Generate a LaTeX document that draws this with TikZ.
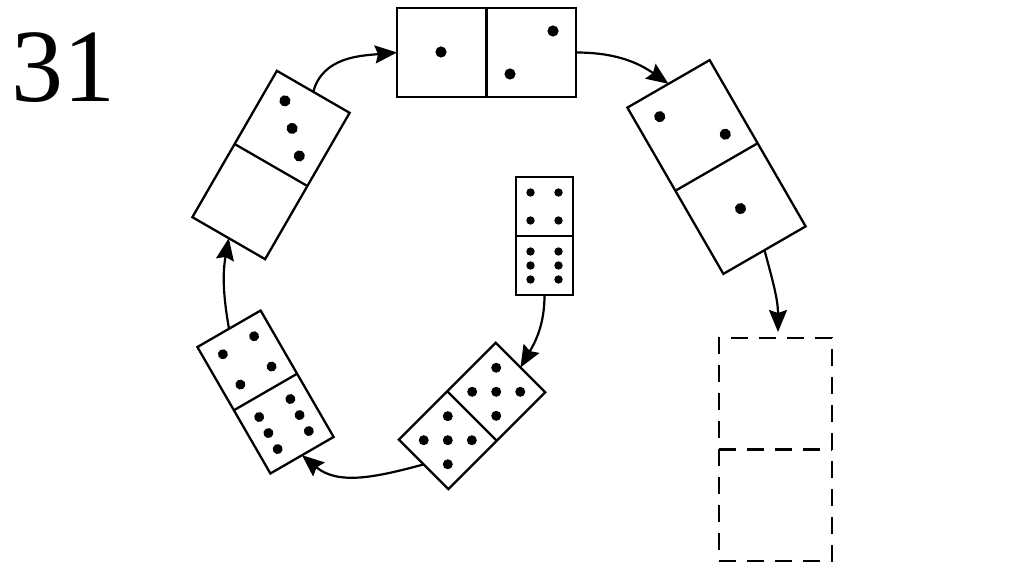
\documentclass[tikz,border=0pt]{standalone}
\usepackage{fontspec}
\setmainfont{Liberation Serif}
\usetikzlibrary{arrows.meta}
\begin{document}
\begin{tikzpicture}[x=1pt,y=1pt,
  dom/.style={draw, line width=2.3pt, inner sep=0pt, outer sep=0pt, fill=white},
  dashdom/.style={draw, line width=2.6pt, inner sep=0pt, outer sep=0pt, dash pattern=on 17pt off 11pt},
  divline/.style={line width=2.3pt},
  arr/.style={line width=2.2pt, -{Stealth[length=22pt,width=18pt,inset=3pt]}}]
\useasboundingbox (0,0) rectangle (1024,574);
\fill[white] (0,0) rectangle (1024,574);

\node[anchor=base west, inner sep=0pt, font=\fontsize{104}{104}\selectfont] (num) at (11,472) {31};

% top horizontal domino 1|2
\node[dom, minimum width=179pt, minimum height=89pt] (top) at (486.5,521.5) {};
\draw[divline] (top.north) -- (top.south);
\fill (441,522) circle (5.6pt);
\fill (553,543) circle (5.6pt);
\fill (510,500) circle (5.6pt);

% upper right domino 2|1
\node[dom, minimum width=95pt, minimum height=192pt, rotate=30] (ur) at (716.5,407) {};
\draw[divline] (ur.west) -- (ur.east);
\begin{scope}[shift={(ur.center)}, rotate=30]
  \fill (-24,72) circle (5.6pt);
  \fill (24,24) circle (5.6pt);
  \fill (0,-48) circle (5.6pt);
\end{scope}

% upper left domino 3|0
\node[dom, minimum width=84pt, minimum height=169pt, rotate=-30] (ul) at (271,409) {};
\draw[divline] (ul.west) -- (ul.east);
\begin{scope}[shift={(ul.center)}, rotate=-30]
  \fill (-20,62.5) circle (5.6pt);
  \fill (0,42.25) circle (5.6pt);
  \fill (20,22) circle (5.6pt);
\end{scope}

% centre domino 4|6
\node[dom, minimum width=57pt, minimum height=118pt] (c) at (544.5,338) {};
\draw[divline] (c.west) -- (c.east);
\begin{scope}[shift={(c.center)}]
  \foreach \px in {-14,14} {
    \foreach \py in {15.5,43.5} { \fill (\px,\py) circle (4.2pt); }
    \foreach \py in {-15.5,-29.5,-43.5} { \fill (\px,\py) circle (4.2pt); }
  }
\end{scope}

% lower right domino 5|5
\node[dom, minimum width=70pt, minimum height=137pt, rotate=-45] (lr) at (472,158) {};
\draw[divline] (lr.west) -- (lr.east);
\begin{scope}[shift={(lr.center)}, rotate=-45]
  \foreach \hy in {34.25,-34.25} {
    \fill (0,\hy) circle (5pt);
    \foreach \px/\py in {-17/17,17/17,-17/-17,17/-17} { \fill (\px,\hy+\py) circle (5pt); }
  }
\end{scope}

% lower left domino 4|6
\node[dom, minimum width=73pt, minimum height=146pt, rotate=30] (ll) at (265.5,182) {};
\draw[divline] (ll.west) -- (ll.east);
\begin{scope}[shift={(ll.center)}, rotate=30]
  \foreach \px in {-18,18} {
    \foreach \py in {19,54} { \fill (\px,\py) circle (5pt); }
    \foreach \py in {-18.5,-37,-55.5} { \fill (\px,\py) circle (5pt); }
  }
\end{scope}

% dashed empty domino
\node[dashdom, minimum width=113pt, minimum height=223pt] (ds) at (775.5,124.5) {};
\draw[line width=2.6pt, dash pattern=on 17pt off 11pt] (ds.west) -- (ds.east);
\coordinate (dstop) at ([xshift=2.5pt,yshift=6pt]ds.north);

% connectors
\draw[arr] (ul.north) to[out=75,in=185] (top.west);
\draw[arr] (top.east) to[out=0,in=145] (ur.north);
\draw[arr] (ur.south) to[out=-75,in=90] (dstop);
\draw[arr] (c.south) to[out=-90,in=60] (lr.north);
\draw[arr] (lr.south) to[out=195,in=-40] (ll.south);
\draw[arr] (ll.north) to[out=100,in=-100] (ul.south);
\end{tikzpicture}
\end{document}
